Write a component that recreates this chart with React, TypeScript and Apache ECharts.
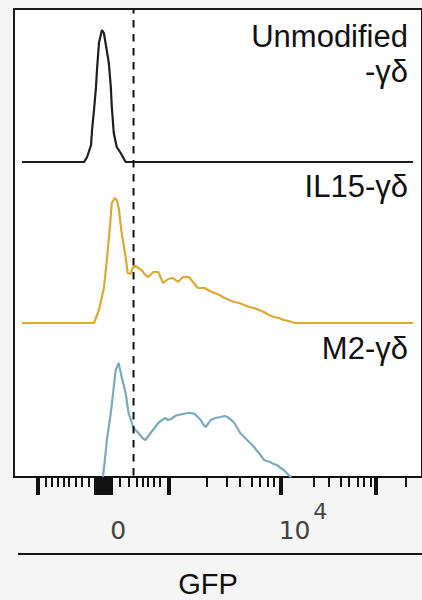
import React, { useEffect, useRef } from "react";
import * as echarts from "echarts";

// Display-scale GFP positions (biexponential display units) and event heights per panel
const panelNames = ["Unmodified\n-γδ", "IL15-γδ", "M2-γδ"];

const unmodifiedX = [8, 71, 74, 78, 79, 81, 83, 84, 86, 89, 91, 93, 96, 98, 99, 101, 104, 108, 113, 404];
const unmodifiedY = [0, 0, 5, 17, 32, 52, 75, 92, 119, 132, 129, 117, 99, 75, 55, 29, 15, 9, 0, 0];

const il15X = [8, 81, 86, 91, 94, 97, 99, 102, 104, 106, 109, 113, 115, 118, 120, 123, 126, 129, 133, 136, 141, 146, 151, 156, 161, 166, 171, 177, 182, 186, 193, 198, 203, 208, 213, 218, 223, 228, 233, 238, 243, 248, 253, 258, 263, 268, 273, 278, 284, 404];
const il15Y = [0, 0, 13, 35, 63, 95, 120, 125, 123, 115, 90, 66, 50, 49, 55, 57, 55, 53, 48, 46, 51, 51, 40, 44, 45, 41, 46, 46, 40, 35, 35, 32, 30, 28, 25, 23, 21, 20, 18, 16, 15, 13, 11, 8, 6, 5, 3, 2, 0, 0];

const m2X = [90, 92, 94, 98, 101, 103, 106, 107, 109, 113, 116, 121, 126, 130, 133, 136, 139, 143, 146, 150, 153, 156, 159, 163, 166, 171, 176, 180, 183, 186, 189, 192, 194, 197, 199, 204, 209, 213, 216, 220, 223, 226, 229, 233, 236, 240, 243, 246, 248, 251, 253, 256, 259, 263, 266, 270, 273, 276, 279, 281];
const m2Y = [0, 17, 37, 64, 90, 107, 114, 109, 100, 84, 64, 49, 44, 39, 37, 41, 45, 50, 54, 57, 59, 57, 58, 61, 62, 63, 64, 64, 63, 60, 57, 52, 50, 54, 57, 59, 60, 61, 60, 57, 54, 49, 44, 40, 37, 33, 30, 26, 24, 20, 17, 16, 15, 13, 12, 9, 7, 4, 1, 0];

const gatePosition = 121;

const majorTicks = [24, 157, 270, 366];
const zeroRegionTicks = [82, 84, 86, 88, 90, 92, 94, 96, 98];
const minorTicks = [32, 38, 44, 50, 55, 63, 69, 76, 107, 116, 124, 130, 135, 141, 148, 195, 215, 229, 241, 249, 257, 263, 303, 319, 331, 339, 348, 354, 361, 397];

// tick labels: base text at labelPositions, exponent (if any) at exponentPositions
const tickLabels = ["0", "10^4"];
const labelPositions = [105.5, 284];
const exponentPositions = [null, 310];

const axisTitle = "GFP";

const X_MAX = 413;
const PANEL_MAX = [153, 161, 154];

const LABEL_FONT = '31px "Liberation Sans", Arial, sans-serif';

export default function App() {
  const ref = useRef<HTMLDivElement>(null);

  useEffect(() => {
    if (!ref.current) return;
    const chart = echarts.init(ref.current, null, { renderer: "svg" });

    const pairs = (xs: number[], ys: number[]) => xs.map((x, i) => [x, ys[i]]);
    const hiddenX = (gridIndex: number) => ({
      type: "value",
      gridIndex,
      min: 0,
      max: X_MAX,
      show: false,
    });
    const hiddenY = (gridIndex: number, max: number) => ({
      type: "value",
      gridIndex,
      min: 0,
      max,
      show: false,
    });
    const tickAxis = (values: number[], length: number, width: number, showLine: boolean) => ({
      type: "value",
      gridIndex: 0,
      min: 0,
      max: X_MAX,
      position: "bottom",
      offset: 0,
      axisLine: { show: showLine, onZero: false, lineStyle: { color: "#111", width: 2 } },
      axisTick: { show: true, customValues: values, length, lineStyle: { color: "#111", width } },
      axisLabel: { show: false },
      splitLine: { show: false },
    });
    const labelAxis = (positions: number[], texts: string[], margin: number, fontSize: number) => ({
      type: "value",
      gridIndex: 0,
      min: 0,
      max: X_MAX,
      position: "bottom",
      offset: 0,
      axisLine: { show: false, onZero: false },
      axisTick: { show: false },
      splitLine: { show: false },
      axisLabel: {
        show: true,
        customValues: positions,
        margin,
        fontFamily: "DejaVu Sans",
        fontSize,
        color: "#444",
        formatter: (v: number) => {
          const i = positions.indexOf(v);
          return i >= 0 ? texts[i] : "";
        },
      },
    });

    const baseTexts = tickLabels.map((t) => t.split("^")[0]);
    const expPos: number[] = [];
    const expTexts: string[] = [];
    tickLabels.forEach((t, i) => {
      const parts = t.split("^");
      if (parts.length > 1 && exponentPositions[i] != null) {
        expPos.push(exponentPositions[i] as number);
        expTexts.push(parts[1]);
      }
    });

    const option: any = {
      animation: false,
      backgroundColor: "#f5f5f5",
      grid: [
        { left: 14, width: X_MAX, top: 9, bottom: 123, show: true, backgroundColor: "#ffffff", borderColor: "#1a1a1a", borderWidth: 2 },
        { left: 14, width: X_MAX, top: 9, height: PANEL_MAX[0] },
        { left: 14, width: X_MAX, top: 162, height: PANEL_MAX[1] },
        { left: 14, width: X_MAX, top: 323, height: PANEL_MAX[2] },
      ],
      xAxis: [
        tickAxis(majorTicks, 18, 4, true),
        tickAxis(minorTicks, 10, 2, false),
        tickAxis(zeroRegionTicks, 18, 3, false),
        labelAxis(labelPositions, baseTexts, 41, 25),
        labelAxis(expPos, expTexts, 23, 22),
        hiddenX(1),
        hiddenX(2),
        hiddenX(3),
      ],
      yAxis: [
        { type: "value", gridIndex: 0, min: 0, max: 1, show: false },
        hiddenY(1, PANEL_MAX[0]),
        hiddenY(2, PANEL_MAX[1]),
        hiddenY(3, PANEL_MAX[2]),
      ],
      series: [
        {
          type: "line",
          xAxisIndex: 5,
          yAxisIndex: 1,
          data: pairs(unmodifiedX, unmodifiedY),
          showSymbol: false,
          lineStyle: { color: "#1e1e1e", width: 2.2 },
          z: 3,
        },
        {
          type: "line",
          xAxisIndex: 6,
          yAxisIndex: 2,
          data: pairs(il15X, il15Y),
          showSymbol: false,
          lineStyle: { color: "#dcaa34", width: 2.2 },
          z: 3,
        },
        {
          type: "line",
          xAxisIndex: 7,
          yAxisIndex: 3,
          data: pairs(m2X, m2Y),
          showSymbol: false,
          lineStyle: { color: "#7aaabb", width: 2.2 },
          z: 3,
        },
        {
          type: "line",
          xAxisIndex: 0,
          yAxisIndex: 0,
          data: [
            [gatePosition, 1],
            [gatePosition, 0],
          ],
          showSymbol: false,
          lineStyle: { color: "#111", width: 2, type: [7.5, 6.5], dashOffset: 3 },
          z: 4,
        },
      ],
      graphic: [
        {
          type: "text",
          x: 408,
          y: 36,
          style: { text: panelNames[0].split("\n")[0], font: LABEL_FONT, fill: "#111", textAlign: "right", textVerticalAlign: "middle" },
        },
        {
          type: "text",
          x: 408,
          y: 71,
          style: { text: panelNames[0].split("\n")[1], font: LABEL_FONT, fill: "#111", textAlign: "right", textVerticalAlign: "middle" },
        },
        {
          type: "text",
          x: 408,
          y: 186,
          style: { text: panelNames[1], font: LABEL_FONT, fill: "#111", textAlign: "right", textVerticalAlign: "middle" },
        },
        {
          type: "text",
          x: 408,
          y: 348,
          style: { text: panelNames[2], font: LABEL_FONT, fill: "#111", textAlign: "right", textVerticalAlign: "middle" },
        },
        {
          type: "line",
          shape: { x1: 18, y1: 554, x2: 422, y2: 554 },
          style: { stroke: "#111", lineWidth: 2 },
        },
        {
          type: "text",
          x: 208,
          y: 584,
          style: { text: axisTitle, font: '29px "Liberation Sans", Arial, sans-serif', fill: "#111", textAlign: "center", textVerticalAlign: "middle" },
        },
      ],
    };

    chart.setOption(option);
    return () => chart.dispose();
  }, []);

  return (
    <div
      ref={ref}
      style={{ position: "fixed", left: 0, top: 0, width: 422, height: 600 }}
    />
  );
}
